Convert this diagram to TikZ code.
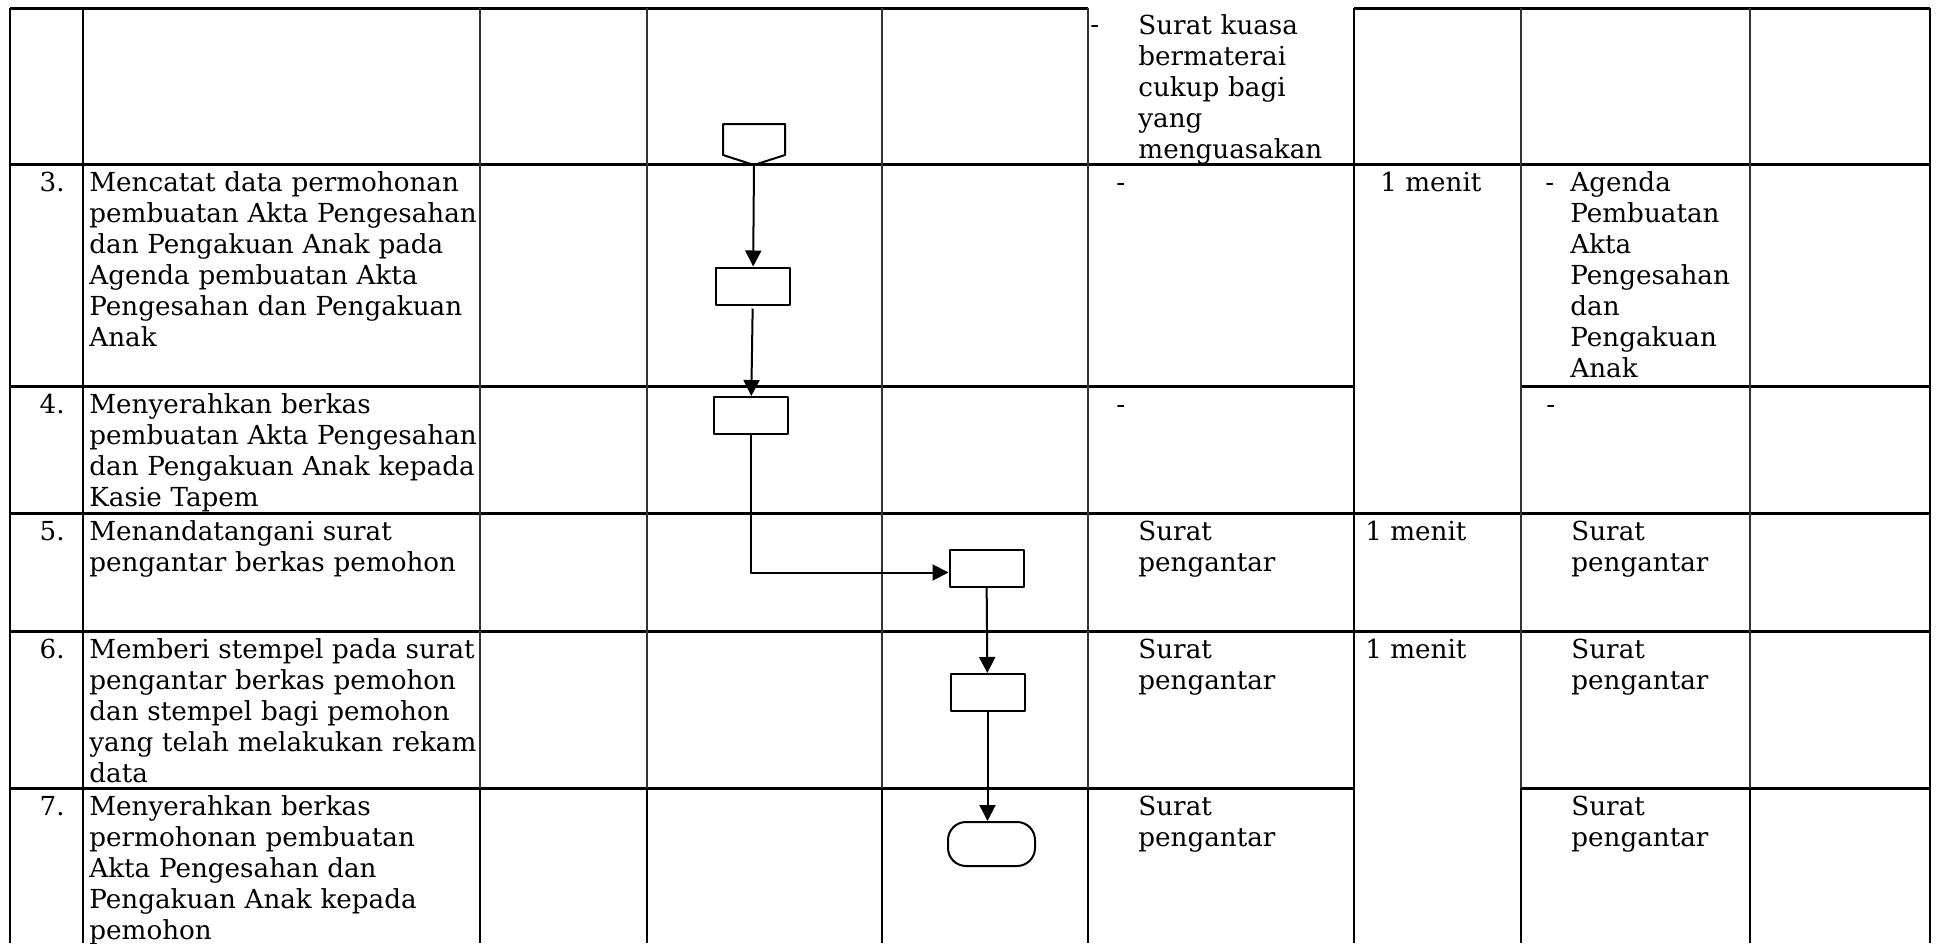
\documentclass[tikz,border=0pt]{standalone}
\usepackage{fontspec}
\setmainfont{DejaVu Serif}
\usetikzlibrary{arrows.meta}

\tikzset{
	hrule/.style={line width=1.5pt},
	vthick/.style={line width=1.3pt},
	vthin/.style={line width=0.6pt, black!80},
	proc/.style={draw, line width=1pt, minimum width=37pt, minimum height=18.5pt, inner sep=0pt},
	endbox/.style={proc, rounded corners=9pt, minimum width=43.5pt, minimum height=22pt},
	txt/.style={anchor=base west, inner sep=0pt, text width=220pt, align=left},
	flow/.style={->, line width=1pt},
}

\begin{document}
\begin{tikzpicture}[x=0.5pt, y=-0.5pt, line join=round, >={Triangle[width=8pt,length=8pt]}, font=\fontsize{13.1}{15.5}\selectfont]
	\useasboundingbox (0,0) rectangle (1939,943);
	
	% table
	\draw[hrule] (10,8) -- (1088,8) (1354,8) -- (1930,8);
	\draw[hrule] (10,164.5) -- (1930,164.5);
	\draw[hrule] (10,386) -- (1354,386) (1521,386) -- (1930,386);
	\draw[hrule] (10,513) -- (1930,513);
	\draw[hrule] (10,631) -- (1930,631);
	\draw[hrule] (10,788) -- (1354,788) (1521,788) -- (1930,788);
	\foreach \x in {10,83,1354,1930} {
		\draw[vthick] (\x,8) -- (\x,943);
	}
	\foreach \x in {480,647,882,1088,1521,1750} {
		\draw[vthin] (\x,8) -- (\x,788);
		\draw[vthick] (\x,788) -- (\x,943);
	}
	
	\foreach \n/\y in {3/191.5, 4/413, 5/540, 6/658, 7/815} {
		\node[anchor=base east, inner sep=0pt] (no\n) at (65,\y) {\n.};
	}
	\node[txt] (d3) at (89,191.5) {Mencatat data permohonan\\pembuatan Akta Pengesahan\\dan Pengakuan Anak pada\\Agenda pembuatan Akta\\Pengesahan dan Pengakuan\\Anak};
	\node[txt] (d4) at (89,413) {Menyerahkan berkas\\pembuatan Akta Pengesahan\\dan Pengakuan Anak kepada\\Kasie Tapem};
	\node[txt] (d5) at (89,540) {Menandatangani surat\\pengantar berkas pemohon};
	\node[txt] (d6) at (89,658) {Memberi stempel pada surat\\pengantar berkas pemohon\\dan stempel bagi pemohon\\yang telah melakukan rekam\\data};
	\node[txt] (d7) at (89,815) {Menyerahkan berkas\\permohonan pembuatan\\Akta Pengesahan dan\\Pengakuan Anak kepada\\pemohon};
	
	% kelengkapan, waktu, output
	\node[anchor=base west, inner sep=0pt] (k0) at (1090,33) {-};
	\node[txt, text width=120pt] (kuasa) at (1138,34.7) {Surat kuasa\\bermaterai\\cukup bagi\\yang\\menguasakan};
	\node[anchor=base west, inner sep=0pt] (k3) at (1116,191.5) {-};
	\node[anchor=base west, inner sep=0pt] (k4) at (1116,413) {-};
	\node[anchor=base west, inner sep=0pt] (w3) at (1380,191.5) {1 menit};
	\node[anchor=base west, inner sep=0pt] (w5) at (1365,540) {1 menit};
	\node[anchor=base west, inner sep=0pt] (w6) at (1365,658) {1 menit};
	\node[anchor=base west, inner sep=0pt] (o3) at (1545,191.5) {-};
	\node[txt, text width=100pt] (agenda) at (1570,191.5) {Agenda\\Pembuatan\\Akta\\Pengesahan\\dan\\Pengakuan\\Anak};
	\node[anchor=base west, inner sep=0pt] (o4) at (1546,413) {-};
	\foreach \n/\y in {5/540, 6/658, 7/815} {
		\node[txt, text width=100pt] (k\n) at (1138,\y) {Surat\\pengantar};
		\node[txt, text width=100pt] (o\n) at (1571,\y) {Surat\\pengantar};
	}
	
	% alur
	\draw[line width=1pt] (723,124) -- (785,124) -- (785,155) -- (754,165) -- (723,155) -- cycle;
	\coordinate (conn) at (754,165);
	\node[proc] (b1) at (753,286) {};
	\node[proc] (b2) at (751,415.5) {};
	\node[proc] (b3) at (986.5,568.5) {};
	\node[proc] (b4) at (987.5,692.5) {};
	\node[endbox] (b5) at (991.5,844) {};
	
	\draw[flow] (conn) -- (b1);
	\draw[flow, shorten <=1.5pt] (b1) -- (b2);
	\draw[flow] (b2.south) |- (b3.186);
	\draw[flow] (b3) -- (b4);
	\draw[flow] (b4.south) -- (b4.south |- b5.north);
\end{tikzpicture}
\end{document}
